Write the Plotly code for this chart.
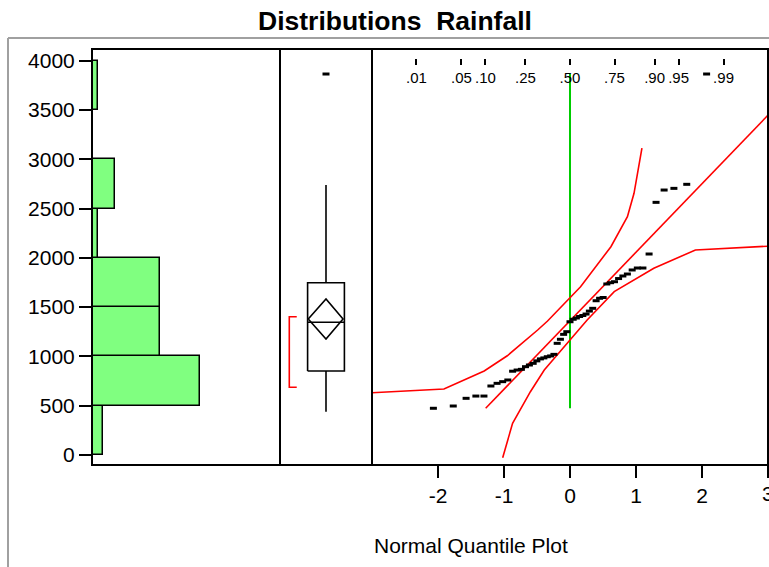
import plotly.graph_objects as go
from statistics import NormalDist

W, H = 769, 567
FONT = "Liberation Sans, Arial, sans-serif"

# ---------------- data ----------------
rainfall = [474, 497, 575, 598, 598, 700, 727, 744, 761, 850,
            862, 869, 896, 913, 930, 955, 975, 985, 997, 1005,
            1021, 1133, 1174, 1224, 1251, 1352, 1377, 1390, 1405, 1415,
            1430, 1460, 1488, 1565, 1590, 1598, 1735, 1748, 1758, 1790,
            1816, 1836, 1877, 1897, 1897, 2039, 2563, 2688, 2705, 2746,
            3865]

hist_bin_start = [0, 500, 1000, 1500, 2000, 2500, 3000, 3500]
hist_counts = [2, 19, 12, 12, 1, 4, 0, 1]
bin_width = 500

# outlier box plot stats
box_q1, box_median, box_q3 = 852, 1346, 1748
whisker_lo, whisker_hi = 440, 2739
outliers = [3865]
mean_value, mean_ci_lo, mean_ci_hi = 1380, 1177, 1582
shortest_half = [687, 1403]

# normal quantile plot reference line and confidence bands
line_mean, line_sd = 1362, 695
upper_band_z = [-3.2, -2.99, -1.91, -1.30, -0.95, -0.49, -0.34, 0.16, 0.62, 0.87, 0.97, 1.09]
upper_band_v = [625, 632, 670, 852, 1007, 1268, 1359, 1707, 2113, 2417, 2655, 3114]
lower_band_z = [-1.02, -0.87, -0.60, -0.39, 0.0, 0.26, 0.67, 1.27, 1.90, 3.0, 3.2]
lower_band_v = [-27, 321, 642, 862, 1166, 1369, 1657, 1894, 2080, 2120, 2125]

prob_ticks = [0.01, 0.05, 0.10, 0.25, 0.50, 0.75, 0.90, 0.95, 0.99]
prob_labels = [".01", ".05", ".10", ".25", ".50", ".75", ".90", ".95", ".99"]

y_ticks = [0, 500, 1000, 1500, 2000, 2500, 3000, 3500, 4000]
q_ticks = [-2, -1, 0, 1, 2, 3]
q_labels = ["-2", "-1", "0", "1", "2", "3"]

# ---------------- helpers ----------------
def px(x):
    return x / W

def py(y):
    return 1 - y / H

nd = NormalDist()
vals = sorted(rainfall)
n = len(vals)
normal_scores = [nd.inv_cdf(i / (n + 1)) for i in range(1, n + 1)]
prob_z = [nd.inv_cdf(p) for p in prob_ticks]

fig = go.Figure()

# ---------------- histogram ----------------
fig.add_trace(go.Bar(
    x=hist_counts,
    y=[b + bin_width / 2 for b in hist_bin_start],
    width=bin_width,
    orientation="h",
    marker=dict(color="#80FF80", line=dict(color="black", width=1.5)),
    xaxis="x", yaxis="y", hoverinfo="skip", showlegend=False,
))

# ---------------- box plot panel ----------------
bx0, bx1, bxc = 0.30, 0.70, 0.50
def line_trace(xs, ys, color="black", width=1.6, axis="x2"):
    return go.Scatter(x=xs, y=ys, mode="lines", line=dict(color=color, width=width),
                      xaxis=axis, yaxis="y", hoverinfo="skip", showlegend=False)

dash_marker = dict(symbol="line-ew", size=5, color="black", line=dict(color="black", width=3))

fig.add_trace(line_trace([bx0, bx1, bx1, bx0, bx0], [box_q1, box_q1, box_q3, box_q3, box_q1]))
fig.add_trace(line_trace([bx0, bx1], [box_median, box_median]))
fig.add_trace(line_trace([bxc, bxc], [box_q3, whisker_hi]))
fig.add_trace(line_trace([bxc, bxc], [box_q1, whisker_lo]))
fig.add_trace(line_trace([0.307, bxc, 0.685, bxc, 0.307],
                         [mean_value, mean_ci_hi, mean_value, mean_ci_lo, mean_value]))
fig.add_trace(line_trace([0.182, 0.101, 0.101, 0.182],
                         [shortest_half[1], shortest_half[1], shortest_half[0], shortest_half[0]],
                         color="red", width=1.6))
fig.add_trace(go.Scatter(x=[bxc] * len(outliers), y=outliers, mode="markers",
                         marker=dash_marker,
                         xaxis="x2", yaxis="y", hoverinfo="skip", showlegend=False))

# ---------------- normal quantile plot ----------------
fig.add_trace(line_trace([0, 0], [min(vals), max(vals)], color="#00CC00", width=2, axis="x3"))
fig.add_trace(line_trace(upper_band_z, upper_band_v, color="red", width=1.6, axis="x3"))
fig.add_trace(line_trace(lower_band_z, lower_band_v, color="red", width=1.6, axis="x3"))
z_lo = (min(vals) - line_mean) / line_sd
z_hi = (max(vals) - line_mean) / line_sd
fig.add_trace(line_trace([z_lo, z_hi], [line_mean + line_sd * z_lo, line_mean + line_sd * z_hi],
                         color="red", width=1.6, axis="x3"))
fig.add_trace(go.Scatter(x=normal_scores, y=vals, mode="markers",
                         marker=dash_marker,
                         xaxis="x3", yaxis="y", hoverinfo="skip", showlegend=False))
# carrier for the probability axis
fig.add_trace(go.Scatter(x=[0], y=[0], mode="markers", marker=dict(opacity=0),
                         xaxis="x4", yaxis="y", hoverinfo="skip", showlegend=False))

hidden = dict(showticklabels=False, showgrid=False, zeroline=False, ticks="", showline=False)

fig.update_layout(
    width=W, height=H,
    margin=dict(l=0, r=0, t=0, b=0),
    paper_bgcolor="white", plot_bgcolor="white",
    font=dict(family=FONT, color="black"),
    showlegend=False,
    bargap=0,
    xaxis=dict(domain=[px(92), px(280)], range=[0, 33.1], anchor="y", **hidden),
    xaxis2=dict(domain=[px(280), px(372)], range=[0, 1], anchor="y", **hidden),
    xaxis3=dict(domain=[px(372), px(768)], range=[-3, 3], anchor="y",
                tickvals=q_ticks, ticktext=q_labels, ticks="outside", ticklen=12,
                tickwidth=2, tickcolor="black", showgrid=False, zeroline=False,
                showline=False, tickfont=dict(size=21, family=FONT)),
    xaxis4=dict(overlaying="x3", anchor="free", position=py(58), side="bottom",
                range=[-3, 3], tickvals=prob_z, ticktext=prob_labels, ticks="outside",
                ticklen=6, tickwidth=2, tickcolor="black", showgrid=False,
                zeroline=False, showline=False, tickfont=dict(size=15, family=FONT)),
    yaxis=dict(domain=[py(465), py(49)], range=[-101.4, 4118.7], anchor="x",
               tickvals=y_ticks, ticks="outside", ticklen=12, tickwidth=2,
               tickcolor="black", showgrid=False, zeroline=False, showline=False,
               tickfont=dict(size=21, family=FONT)),
)

shapes = [
    # outer grey frame
    dict(type="line", xref="paper", yref="paper", x0=px(8), x1=px(800), y0=py(38), y1=py(38),
         line=dict(color="#A0A0A0", width=2)),
    dict(type="line", xref="paper", yref="paper", x0=px(8), x1=px(8), y0=py(38), y1=py(600),
         line=dict(color="#A0A0A0", width=2)),
    # plot frame and panel dividers
    dict(type="rect", xref="paper", yref="paper", x0=px(92), x1=px(768), y0=py(465), y1=py(49),
         line=dict(color="black", width=2)),
    dict(type="line", xref="paper", yref="paper", x0=px(280), x1=px(280), y0=py(465), y1=py(49),
         line=dict(color="black", width=2)),
    dict(type="line", xref="paper", yref="paper", x0=px(372), x1=px(372), y0=py(465), y1=py(49),
         line=dict(color="black", width=2)),
]
fig.update_layout(shapes=shapes)

fig.add_annotation(text="<b>Distributions  Rainfall</b>", xref="paper", yref="paper",
                   x=px(394.5), y=py(21), xanchor="center", yanchor="middle", showarrow=False,
                   font=dict(size=26.5, family=FONT, color="black"))
fig.add_annotation(text="Normal Quantile Plot", xref="paper", yref="paper",
                   x=px(372), y=py(545), xanchor="left", yanchor="middle", showarrow=False,
                   font=dict(size=21, family=FONT, color="black"))
# the last tick label at the right edge, partially cut by the window edge
fig.add_annotation(text=q_labels[-1], xref="x3", yref="paper",
                   x=q_ticks[-1], y=py(493), xanchor="center", yanchor="middle",
                   showarrow=False, font=dict(size=21, family=FONT, color="black"))

fig.write_html(
    "out.html",
    config={"displayModeBar": False},
    post_script="document.body.style.margin='0px';document.body.style.overflow='hidden';",
)
